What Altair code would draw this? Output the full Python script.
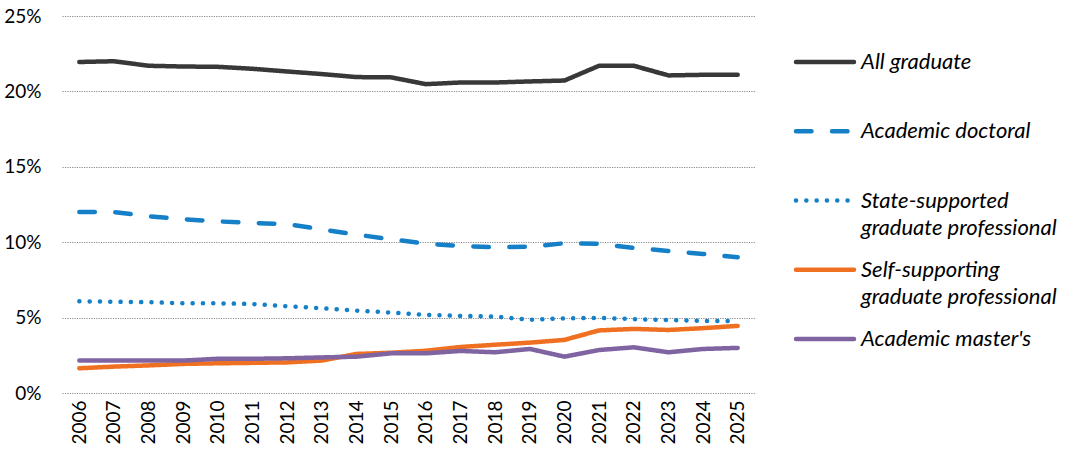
import altair as alt
import pandas as pd

# Share of graduate enrollment, by program type (percent)
years = list(range(2006, 2026))

series = [
    "All graduate",
    "Academic doctoral",
    "State-supported graduate professional",
    "Self-supporting graduate professional",
    "Academic master's",
]

legend_lines = [
    ["All graduate", ""],
    ["Academic doctoral", ""],
    ["State-supported", "graduate professional"],
    ["Self-supporting", "graduate professional"],
    ["Academic master's", ""],
]

all_graduate = [21.95, 22.0, 21.7, 21.65, 21.63, 21.5, 21.32, 21.15, 20.95, 20.93,
                20.48, 20.59, 20.59, 20.66, 20.72, 21.7, 21.7, 21.06, 21.1, 21.1]
academic_doctoral = [12.0, 12.0, 11.72, 11.52, 11.38, 11.27, 11.2, 10.85, 10.5, 10.2,
                     9.9, 9.75, 9.67, 9.7, 9.93, 9.9, 9.62, 9.42, 9.22, 9.0]
state_supported = [6.08, 6.05, 6.02, 5.95, 5.95, 5.9, 5.75, 5.62, 5.46, 5.33,
                   5.18, 5.11, 5.07, 4.85, 4.95, 4.98, 4.9, 4.84, 4.78, 4.78]
self_supporting = [1.64, 1.75, 1.83, 1.93, 1.97, 2.0, 2.03, 2.15, 2.59, 2.67,
                   2.8, 3.05, 3.2, 3.34, 3.52, 4.15, 4.25, 4.18, 4.3, 4.45]
academic_masters = [2.15, 2.15, 2.15, 2.15, 2.27, 2.27, 2.3, 2.36, 2.41, 2.63,
                    2.63, 2.79, 2.7, 2.92, 2.41, 2.85, 3.03, 2.7, 2.92, 2.99]

values = [all_graduate, academic_doctoral, state_supported, self_supporting, academic_masters]

# Line styles per series
colors = ["#383838", "#1580C8", "#1580C8", "#F07022", "#8064A2"]
dashes = [[1, 0], [15.5, 20.5], [0.1, 10.2], [1, 0], [1, 0]]

FONT = "Lato"
LINE_W = 4.5

rows = []
for name, vals in zip(series, values):
    for yr, v in zip(years, vals):
        rows.append({"year": str(yr), "series": name, "share": v / 100})
df = pd.DataFrame(rows)

legend_df = pd.DataFrame({
    "series": series,
    "line1": [l[0] for l in legend_lines],
    "line2": [l[1] for l in legend_lines],
})

color_scale = alt.Scale(domain=series, range=colors)
dash_scale = alt.Scale(domain=series, range=dashes)

x_enc = alt.X(
    "year:O",
    title=None,
    axis=alt.Axis(labelAngle=270, ticks=False, domain=False, labelPadding=7,
                  labelFontSize=19, labelFont=FONT, labelColor="#000000", grid=False),
)
y_enc = alt.Y(
    "share:Q",
    title=None,
    scale=alt.Scale(domain=[0, 0.25], nice=False),
    axis=alt.Axis(values=[0, 0.05, 0.10, 0.15, 0.20, 0.25], format=".0%", ticks=False,
                  domain=False, labelPadding=21, labelFontSize=19, labelFont=FONT,
                  labelColor="#000000", grid=True, gridDash=[1.2, 1.2],
                  gridColor="#8a8a8a", gridWidth=1),
)

layers = []
for name in series:
    layers.append(
        alt.Chart(df)
        .transform_filter(alt.datum.series == name)
        .mark_line(strokeWidth=LINE_W, strokeCap="round", strokeJoin="round")
        .encode(
            x=x_enc,
            y=y_enc,
            color=alt.Color("series:N", scale=color_scale, legend=None),
            strokeDash=alt.StrokeDash("series:N", scale=dash_scale, legend=None),
        )
    )

main = alt.layer(*layers).properties(width=693, height=377)

# Legend drawn as its own small panel
legend_y = alt.Y("series:N", scale=alt.Scale(domain=series, type="point",
                                             padding=0.722, align=0.46), axis=None)

legend_rules = alt.Chart(legend_df).mark_rule(strokeWidth=LINE_W, strokeCap="round").encode(
    x=alt.value(2),
    x2=alt.value(60),
    y=legend_y,
    color=alt.Color("series:N", scale=color_scale, legend=None),
    strokeDash=alt.StrokeDash("series:N", scale=dash_scale, legend=None),
)
legend_text1 = alt.Chart(legend_df).mark_text(
    align="left", baseline="middle", font=FONT, fontSize=22, fontStyle="italic",
    color="#000000"
).encode(x=alt.value(67), y=legend_y, text="line1:N")
legend_text2 = alt.Chart(legend_df).mark_text(
    align="left", baseline="middle", font=FONT, fontSize=22, fontStyle="italic",
    color="#000000", dy=27
).encode(x=alt.value(67), y=legend_y, text="line2:N")

legend = alt.layer(legend_rules, legend_text1, legend_text2).properties(width=270, height=377)

chart = (
    alt.hconcat(main, legend, spacing=38)
    .properties(padding={"left": 3, "top": 7, "right": 5, "bottom": 5}, background="white")
    .configure_view(stroke="transparent", strokeWidth=0)
)

chart.save("out.html", embed_options={"renderer": "svg", "actions": False})
